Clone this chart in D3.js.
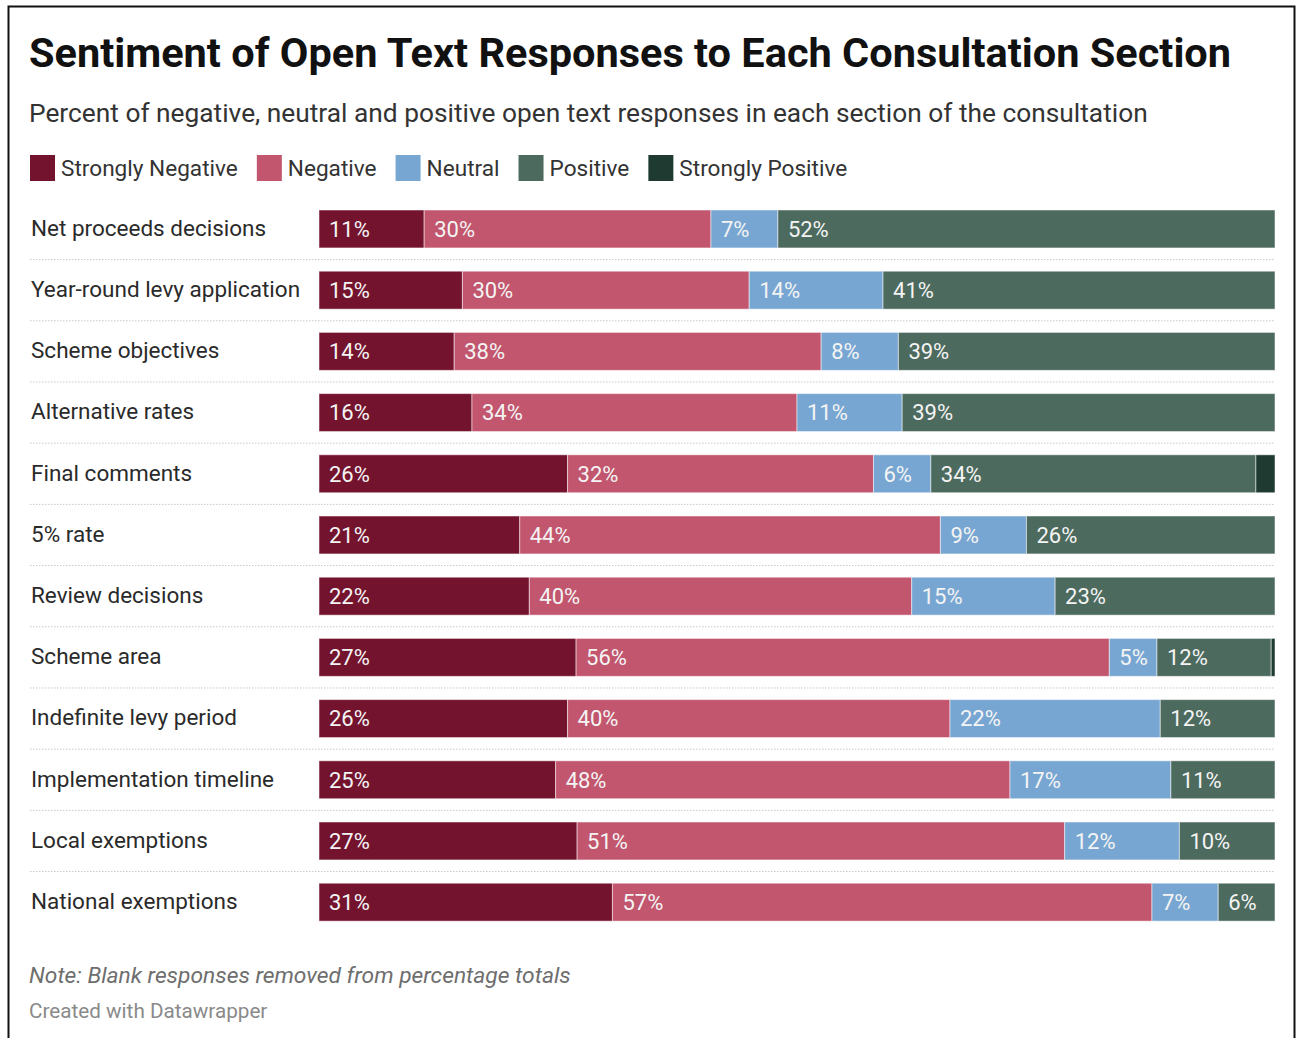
<!DOCTYPE html>
<html>
<head>
<meta charset="utf-8">
<script src="https://cdn.jsdelivr.net/npm/d3@7"></script>
<style>
  html, body { margin: 0; padding: 0; background: #fff; }
  svg { display: block; font-family: Roboto, "Noto Sans", sans-serif; }
</style>
</head>
<body>
<svg id="chart" width="1296" height="1038"></svg>
<script>
// Consultation sections, top to bottom
const sections = [
  "Net proceeds decisions",
  "Year-round levy application",
  "Scheme objectives",
  "Alternative rates",
  "Final comments",
  "5% rate",
  "Review decisions",
  "Scheme area",
  "Indefinite levy period",
  "Implementation timeline",
  "Local exemptions",
  "National exemptions"
];

// Sentiment categories and their colours
const sentiments = ["Strongly Negative", "Negative", "Neutral", "Positive", "Strongly Positive"];
const sentimentColors = ["#73132d", "#c2566e", "#78a6d2", "#4c6a5e", "#1f3a31"];

// Percent of responses per section, one array per sentiment
const stronglyNegative = [11, 15, 14, 16, 26, 21, 22, 27, 26, 25, 27, 31];
const negative         = [30, 30, 38, 34, 32, 44, 40, 56, 40, 48, 51, 57];
const neutral          = [ 7, 14,  8, 11,  6,  9, 15,  5, 22, 17, 12,  7];
const positive         = [52, 41, 39, 39, 34, 26, 23, 12, 12, 11, 10,  6];
const stronglyPositive = [ 0,  0,  0,  0,  2,  0,  0, 0.4, 0, 0,  0,  0];

const titleText = "Sentiment of Open Text Responses to Each Consultation Section";
const subtitleText = "Percent of negative, neutral and positive open text responses in each section of the consultation";
const noteText = "Note: Blank responses removed from percentage totals";
const creditText = "Created with Datawrapper";

const seriesValues = [stronglyNegative, negative, neutral, positive, stronglyPositive];
const rows = sections.map((name, i) => {
  const row = { name };
  sentiments.forEach((s, k) => { row[s] = seriesValues[k][i]; });
  return row;
});

const svg = d3.select("#chart");

// Frame
svg.append("rect")
  .attr("x", 8.5).attr("y", 6.5)
  .attr("width", 1286).attr("height", 1100)
  .attr("fill", "none").attr("stroke", "#111").attr("stroke-width", 2);

// Header
svg.append("text")
  .attr("x", 29).attr("y", 67)
  .attr("font-size", 41.5).attr("font-weight", 700).attr("fill", "#111")
  .text(titleText);

svg.append("text")
  .attr("x", 29).attr("y", 122)
  .attr("font-size", 26.3).attr("fill", "#333")
  .text(subtitleText);

// Legend
const legend = svg.append("g").attr("transform", "translate(30,155)");
let lx = 0;
sentiments.forEach((s, k) => {
  const g = legend.append("g").attr("transform", `translate(${lx},0)`);
  g.append("rect").attr("width", 25).attr("height", 26).attr("fill", sentimentColors[k]);
  const t = g.append("text")
    .attr("x", 31).attr("y", 21)
    .attr("font-size", 22.6).attr("fill", "#333")
    .text(s);
  lx += 31 + t.node().getComputedTextLength() + 19;
});

// Bars
const barLeft = 319, barRight = 1275;
const rowStep = 61.2, barPadding = 0.38;
const y = d3.scaleBand()
  .domain(sections)
  .range([210, 210 + rowStep * (sections.length - barPadding)])
  .paddingInner(barPadding)
  .paddingOuter(0);
const color = d3.scaleOrdinal().domain(sentiments).range(sentimentColors);

// Each row is stacked to its own total so the bar spans the full width
const stacked = d3.stack().keys(sentiments).offset(d3.stackOffsetExpand)(rows);
const x = d3.scaleLinear().domain([0, 1]).range([barLeft, barRight]);

// Row separators
const step = y.step();
svg.append("g").selectAll("line")
  .data(sections.slice(1))
  .join("line")
  .attr("x1", 30).attr("x2", barRight)
  .attr("y1", d => y(d) - (step - y.bandwidth()) / 2)
  .attr("y2", d => y(d) - (step - y.bandwidth()) / 2)
  .attr("stroke", "#c8c8c8").attr("stroke-width", 1)
  .attr("stroke-dasharray", "1.5,1.5");

// Row labels
svg.append("g").selectAll("text")
  .data(sections)
  .join("text")
  .attr("x", 31)
  .attr("y", d => y(d) + y.bandwidth() / 2)
  .attr("dy", "0.3em")
  .attr("font-size", 22.5).attr("fill", "#2a2a2a")
  .text(d => d);

// Segments
const layers = svg.append("g").selectAll("g")
  .data(stacked)
  .join("g")
  .attr("fill", d => color(d.key));

layers.selectAll("rect")
  .data(d => d.map(v => ({ v, key: d.key })))
  .join("rect")
  .attr("x", d => x(d.v[0]))
  .attr("y", d => y(d.v.data.name))
  .attr("width", d => Math.max(0, x(d.v[1]) - x(d.v[0])))
  .attr("height", y.bandwidth())
  .attr("stroke", "#fff").attr("stroke-opacity", 0.5).attr("stroke-width", 1);

// Value labels
layers.selectAll("text")
  .data(d => d.map(v => ({ v, key: d.key })).filter(e => e.v.data[e.key] >= 3))
  .join("text")
  .attr("x", d => x(d.v[0]) + 10)
  .attr("y", d => y(d.v.data.name) + y.bandwidth() / 2)
  .attr("dy", "0.36em")
  .attr("font-size", 22).attr("fill", "#f4f4f4")
  .text(d => d.v.data[d.key] + "%");

// Footer
svg.append("text")
  .attr("x", 29).attr("y", 983)
  .attr("font-size", 22.8).attr("font-style", "italic").attr("fill", "#6e6e6e")
  .text(noteText);

svg.append("text")
  .attr("x", 29).attr("y", 1018)
  .attr("font-size", 20.7).attr("fill", "#8a8a8a")
  .text(creditText);
</script>
</body>
</html>
